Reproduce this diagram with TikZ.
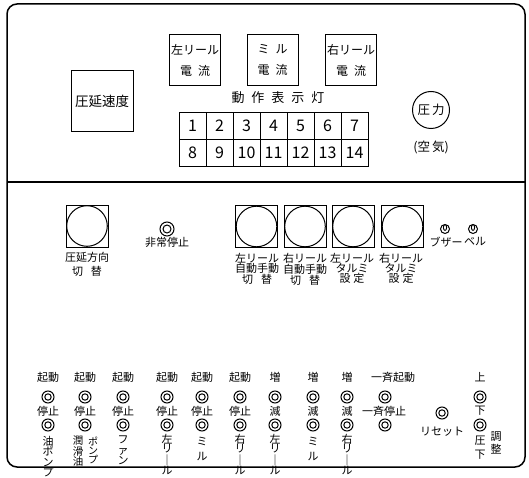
\documentclass[tikz,border=0pt]{standalone}
\usepackage{fontspec}
\newfontfamily\jp{Noto Sans CJK JP}
\begin{document}
\begin{tikzpicture}[x=1pt,y=-1pt,
    meter/.style={draw,line width=1pt,minimum width=51,minimum height=51,align=center,inner sep=0pt,font=\jp\fontsize{12}{21}\selectfont},
    cell/.style={draw,line width=0.9pt,minimum size=27,inner sep=0pt,font=\jp\fontsize{16}{16}\selectfont},
    bigbtn/.style={draw,line width=1pt,minimum size=42,inner sep=0pt,
      path picture={\draw[line width=1pt] (path picture bounding box.center) circle (20.3);}},
    lamp/.style={circle,draw,line width=1pt,minimum size=12,inner sep=0pt,
      path picture={\draw[line width=1pt] (path picture bounding box.center) circle (3.2);}},
    toggle/.style={circle,draw,line width=1pt,minimum size=9,inner sep=0pt,
      path picture={\draw[line width=0.9pt] ([yshift=1.5]path picture bounding box.center) ellipse (1.6 and 3);}},
    lbl/.style={inner sep=0pt,align=center,font=\jp\fontsize{11}{10}\selectfont},
    vlbl/.style={inner sep=0pt,anchor=north,align=center,font=\jp\fontsize{11}{10.5}\selectfont}]
  \useasboundingbox (0,0) rectangle (529,478);

  %外枠と仕切り
  \draw[line width=1.5pt,rounded corners=10] (7,4) rectangle (525,467);
  \draw[line width=1.2pt] (7,182) -- (525,182);

  %上段 計器
  \node[draw,line width=1pt,minimum width=62,minimum height=61,font=\jp\fontsize{13.5}{13.5}\selectfont] (speed) at (102,101.5) {圧延速度};
  \node[meter] (lcur) at (195,60) {左リール\\電\hspace{6pt}流};
  \node[meter] (mcur) at (272.5,60) {ミ\hspace{6pt}ル\\電\hspace{6pt}流};
  \node[meter] (rcur) at (351,60) {右リール\\電\hspace{6pt}流};

  %動作表示灯
  \node[font=\jp\fontsize{13}{13}\selectfont] (lamps) at (278,98) {動\hspace{7pt}作\hspace{7pt}表\hspace{7pt}示\hspace{7pt}灯};
  \foreach \i in {1,...,7}{
    \pgfmathtruncatemacro\j{\i+7}
    \node[cell] (c\i) at ({179+27*\i-13.5},125.5) {\i};
    \node[cell] (c\j) at ({179+27*\i-13.5},152.5) {\j};
  }

  %圧力計
  \node[circle,draw,line width=1pt,minimum size=37,inner sep=0pt,font=\jp\fontsize{12.5}{12.5}\selectfont] (press) at (431,110) {圧\hspace{2pt}力};
  \node[font=\jp\fontsize{12.5}{12.5}\selectfont] (air) at (431,147) {(空\hspace{2pt}気)};

  %中段 押釦
  \node[bigbtn] (dir) at (87,226) {};
  \node[lbl] (dirl) at (87,264) {圧延方向\\[3pt]切\hspace{8pt}替};
  \node[lamp,minimum size=14,path picture={\draw[line width=1pt] (path picture bounding box.center) circle (4);}] (emg) at (167,229) {};
  \node[lbl] (emgl) at (167,242) {非常停止};

  \node[bigbtn] (b1) at (256.5,226.5) {};
  \node[bigbtn] (b2) at (305,226.5) {};
  \node[bigbtn] (b3) at (353,226.5) {};
  \node[bigbtn] (b4) at (402.5,226.5) {};
  \node[lbl,anchor=north] (b1l) at (257,253) {左リール\\自動手動\\切\hspace{8pt}替};
  \node[lbl,anchor=north] (b2l) at (305,253) {右リール\\自動手動\\切\hspace{8pt}替};
  \node[lbl,anchor=north] (b3l) at (352,253) {左リール\\タルミ\\設\hspace{3pt}定};
  \node[lbl,anchor=north] (b4l) at (401,253) {右リール\\タルミ\\設\hspace{3pt}定};

  \node[toggle] (buz) at (445,229) {};
  \node[lbl] (buzl) at (446,242) {ブザー};
  \node[toggle] (bell) at (473,229) {};
  \node[lbl] (belll) at (475,242) {ベル};

  %下段 起動停止
  \foreach \x [count=\n] in {48,85,123,167,202,240}{
    \node[lbl] (on\n) at (\x,377) {起動};
    \node[lamp] (a\n) at (\x,397) {};
    \node[lbl] (off\n) at (\x,411) {停止};
    \node[lamp] (s\n) at (\x,425) {};
  }
  \node[vlbl] (v1) at (48,436) {油\\ポ\\ン\\プ};
  \node[vlbl,font=\jp\fontsize{10.5}{10.5}\selectfont] (v2) at (78,436) {潤\\滑\\油};
  \node[vlbl,font=\jp\fontsize{10}{9}\selectfont] (v2b) at (93,437) {ポ\\ン\\プ};
  \node[vlbl] (v3) at (123,436) {フ\\ァ\\ン};
  \node[vlbl,font=\jp\fontsize{11}{9.5}\selectfont] (v4) at (167,434) {左\\リ\\｜\\ル};
  \node[vlbl] (v5) at (202,437) {ミ\\[4pt]ル};
  \node[vlbl,font=\jp\fontsize{11}{9.5}\selectfont] (v6) at (240,434) {右\\リ\\｜\\ル};

  %増減
  \foreach \x [count=\n] in {275,313,347}{
    \node[lbl] (up\n) at (\x,377) {増};
    \node[lamp] (u\n) at (\x,397) {};
    \node[lbl] (dn\n) at (\x,411) {減};
    \node[lamp] (d\n) at (\x,425) {};
  }
  \node[vlbl,font=\jp\fontsize{11}{9.5}\selectfont] (v7) at (275,434) {左\\リ\\｜\\ル};
  \node[vlbl] (v8) at (313,437) {ミ\\[4pt]ル};
  \node[vlbl,font=\jp\fontsize{11}{9.5}\selectfont] (v9) at (347,434) {右\\リ\\｜\\ル};

  %一斉
  \node[lbl] (allon) at (393,377) {一斉起動};
  \node[lamp] (all1) at (385,397) {};
  \node[lbl] (alloff) at (384,411) {一斉停止};
  \node[lamp] (all2) at (385,425) {};

  %リセット
  \node[lamp] (rst) at (442,413) {};
  \node[lbl] (rstl) at (442,432) {リセット};

  %圧下調整
  \node[lbl] (pu) at (480,377) {上};
  \node[lamp] (p1) at (480,397) {};
  \node[lbl] (pd) at (480,411) {下};
  \node[lamp] (p2) at (480,425) {};
  \node[vlbl] (pl) at (480,436) {圧\\[3pt]下};
  \node[vlbl] (pa) at (496,431) {調\\[3pt]整};
\end{tikzpicture}
\end{document}
